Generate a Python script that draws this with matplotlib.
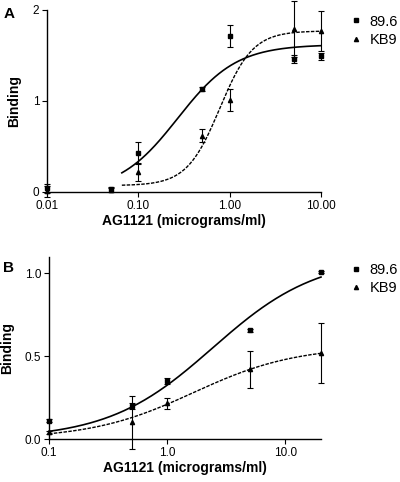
import numpy as np
import matplotlib
matplotlib.use('Agg')
import matplotlib.pyplot as plt
from matplotlib.lines import Line2D

plt.rcParams['font.family'] = ['Liberation Sans', 'DejaVu Sans']

# panel A
dose_a = [0.01, 0.05, 0.1, 0.5, 1, 5, 10]
a_896 = [0.04, 0.03, 0.43, 1.13, 1.71, 1.46, 1.49]
a_896_err = [0.05, 0.03, 0.12, 0.02, 0.12, 0.04, 0.04]
a_kb9 = [0.01, 0.02, 0.22, 0.62, 1.01, 1.79, 1.77]
a_kb9_err = [0.06, 0.02, 0.10, 0.07, 0.12, 0.31, 0.22]
# fitted sigmoid (bottom, top, ec50, hill) and x-range
a_fit_896 = (0.0, 1.62, 0.27, 1.35)
a_fit_kb9 = (0.07, 1.77, 0.78, 2.4)
a_fit_range = (0.066, 10)

# panel B
dose_b = [0.1, 0.5, 1, 5, 20]
b_896 = [0.11, 0.20, 0.35, 0.655, 1.005]
b_896_err = [0.01, 0.02, 0.02, 0.01, 0.005]
b_kb9 = [0.04, 0.10, 0.215, 0.42, 0.52]
b_kb9_err = [0.01, 0.16, 0.035, 0.11, 0.18]
b_fit_896 = (0.0, 1.10, 2.43, 0.98)
b_fit_kb9 = (0.0, 0.56, 1.67, 1.0)
b_fit_range = (0.1, 20)


def hill(x, p):
    b, t, ec, h = p
    return b + (t - b) / (1 + (ec / x) ** h)


fig = plt.figure(figsize=(4, 4.82), dpi=100)
axA = fig.add_axes([0.1175, 0.6017, 0.685, 0.3776])
axB = fig.add_axes([0.1225, 0.0892, 0.68, 0.3786])


def draw(ax, dose, s1, e1, s2, e2, f1, f2, rng):
    xs = np.logspace(np.log10(rng[0]), np.log10(rng[1]), 200)
    ax.plot(xs, hill(xs, f1), color='black', lw=1.2, clip_on=False)
    ax.plot(xs, hill(xs, f2), color='black', lw=1.0, ls=(0, (2.5, 1)), clip_on=False)
    ax.errorbar(dose, s1, yerr=e1, fmt='s', ms=3, color='black', ecolor='black',
                elinewidth=0.8, capsize=2.5, capthick=0.8, clip_on=False)
    ax.errorbar(dose, s2, yerr=e2, fmt='^', ms=3, color='black', ecolor='black',
                elinewidth=0.8, capsize=2.5, capthick=0.8, clip_on=False)
    ax.set_xscale('log')
    ax.minorticks_off()
    for sp in ['top', 'right']:
        ax.spines[sp].set_visible(False)
    ax.spines['left'].set_linewidth(1.0)
    ax.spines['bottom'].set_linewidth(1.0)
    ax.tick_params(direction='out', length=3.5, width=0.8, labelsize=8.5, pad=2)
    ax.set_xlabel('AG1121 (micrograms/ml)', fontsize=10, fontweight='bold', labelpad=2)
    ax.set_ylabel('Binding', fontsize=10, fontweight='bold', labelpad=8)
    handles = [Line2D([], [], marker='s', ls='none', color='black', ms=3),
               Line2D([], [], marker='^', ls='none', color='black', ms=3)]
    return handles


h = draw(axA, dose_a, a_896, a_896_err, a_kb9, a_kb9_err, a_fit_896, a_fit_kb9, a_fit_range)
axA.set_xlim(0.01, 10)
axA.set_ylim(0, 2)
axA.set_xticks([0.01, 0.1, 1, 10])
axA.set_xticklabels(['0.01', '0.10', '1.00', '10.00'])
axA.set_yticks([0, 1, 2])
axA.legend(h, ['89.6', 'KB9'], loc='upper left', bbox_to_anchor=(0.862, 0.985),
           bbox_transform=fig.transFigure, frameon=False, fontsize=10.5,
           handlelength=0.6, handletextpad=0.6, labelspacing=0.3, borderpad=0)

h = draw(axB, dose_b, b_896, b_896_err, b_kb9, b_kb9_err, b_fit_896, b_fit_kb9, b_fit_range)
axB.set_xlim(0.1, 20)
axB.set_ylim(0, 1.1)
axB.set_xticks([0.1, 1, 10])
axB.set_xticklabels(['0.1', '1.0', '10.0'])
axB.set_yticks([0, 0.5, 1.0])
axB.set_yticklabels(['0.0', '0.5', '1.0'])
axB.legend(h, ['89.6', 'KB9'], loc='upper left', bbox_to_anchor=(0.862, 0.470),
           bbox_transform=fig.transFigure, frameon=False, fontsize=10.5,
           handlelength=0.6, handletextpad=0.6, labelspacing=0.3, borderpad=0)

fig.text(0.008, 0.9855, 'A', fontsize=11, fontweight='bold', va='top')
fig.text(0.008, 0.459, 'B', fontsize=11, fontweight='bold', va='top')

fig.savefig('out.png', dpi=100)
